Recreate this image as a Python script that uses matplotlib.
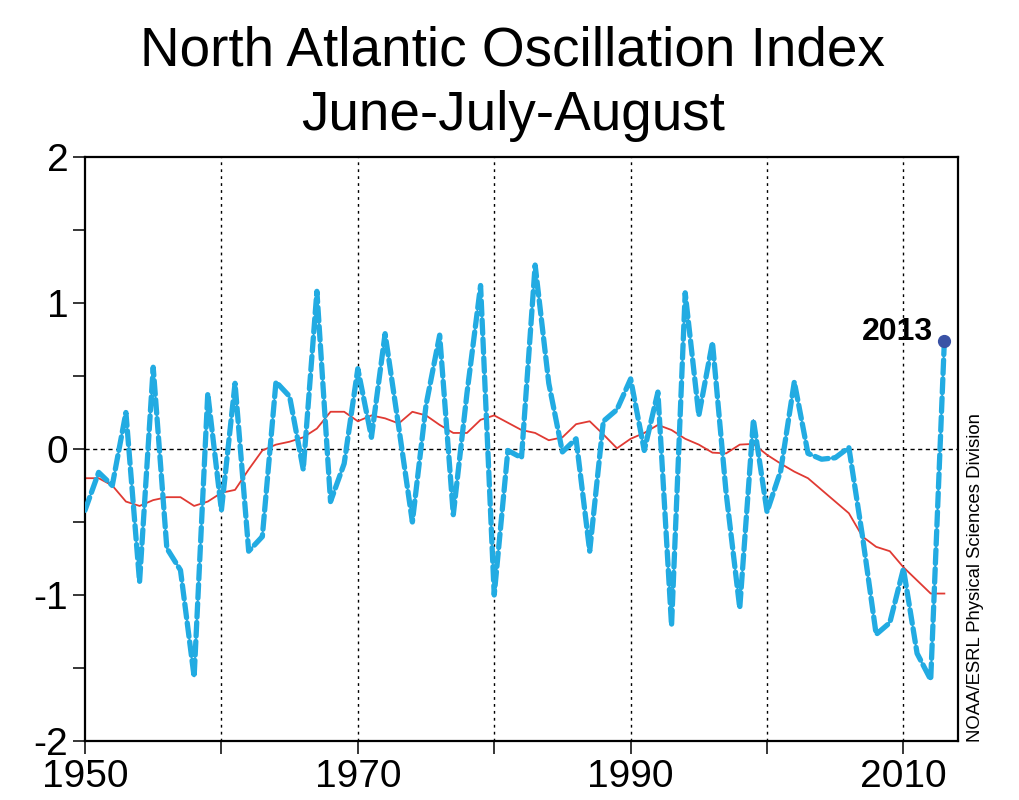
import numpy as np
import matplotlib
matplotlib.use("Agg")
import matplotlib.pyplot as plt
from matplotlib.ticker import MultipleLocator, FixedLocator

plt.rcParams['font.family'] = ['Liberation Sans', 'DejaVu Sans']

years = list(range(1950, 2014))
nao_jja = [-0.42, -0.16, -0.25, 0.25, -0.91, 0.56, -0.68, -0.83, -1.56, 0.38,
           -0.42, 0.45, -0.70, -0.60, 0.46, 0.36, -0.14, 1.08, -0.36, -0.10,
           0.55, 0.08, 0.79, 0.15, -0.50, 0.30, 0.78, -0.45, 0.38, 1.12,
           -1.00, -0.01, -0.06, 1.26, 0.45, -0.02, 0.07, -0.70, 0.19, 0.27,
           0.48, -0.01, 0.39, -1.21, 1.07, 0.23, 0.73, -0.30, -1.09, 0.20,
           -0.43, -0.15, 0.46, -0.03, -0.07, -0.06, 0.01, -0.60, -1.27, -1.19,
           -0.82, -1.40, -1.58, 0.74]
running_mean = [-0.20, -0.20, -0.25, -0.36, -0.39, -0.35, -0.33, -0.33, -0.39, -0.36,
                -0.30, -0.28, -0.14, -0.01, 0.03, 0.05, 0.08, 0.14, 0.255, 0.255,
                0.19, 0.23, 0.21, 0.175, 0.255, 0.23, 0.165, 0.11, 0.11, 0.20,
                0.23, 0.18, 0.13, 0.11, 0.06, 0.08, 0.17, 0.19, 0.10, 0.005,
                0.07, 0.11, 0.165, 0.13, 0.07, 0.03, -0.025, -0.03, 0.03, 0.035,
                -0.04, -0.10, -0.155, -0.20, -0.28, -0.36, -0.44, -0.60, -0.67, -0.70,
                -0.81, -0.90, -0.99, -0.99]
xtick_labels = [1950, 1970, 1990, 2010]
ytick_labels = [-2, -1, 0, 1, 2]
grid_years = [1960, 1970, 1980, 1990, 2000, 2010]
highlight_year = 2013

fig = plt.figure(figsize=(10.19, 8.0), dpi=100)
ax = fig.add_axes([85/1019, 59/800, 873/1019, 584/800])

ax.set_xlim(1950, 2014)
ax.set_ylim(-2, 2)

# grid / reference lines
for gy in grid_years:
    ax.axvline(gy, color='black', lw=1.0, linestyle=(0, (2, 3)), zorder=1)
ax.axhline(0, color='black', lw=1.0, linestyle=(0, (3, 2.5)), zorder=1)

# running mean
ax.plot(years, running_mean, color='#E03A33', lw=1.3, zorder=2)

# NAO index: thin dark line with thick dashed cyan on top
ax.plot(years, nao_jja, color='#1F3A8A', lw=0.8, zorder=3)
ax.plot(years, nao_jja, color='#22ABE2', lw=3.8, linestyle=(0, (2.6, 1.0)),
        dash_capstyle='round', zorder=4)

# highlight last year
hv = nao_jja[years.index(highlight_year)]
ax.plot([highlight_year], [hv], 'o', color='#3A52A5', ms=8.5, zorder=5)
ax.annotate(str(highlight_year), xy=(highlight_year, hv), xytext=(-8, 1),
            textcoords='offset points', ha='right', va='baseline',
            fontsize=23, fontweight='bold', zorder=6)

# ticks
ax.xaxis.set_major_locator(FixedLocator(xtick_labels))
ax.xaxis.set_minor_locator(FixedLocator(grid_years))
ax.set_xticklabels([str(v) for v in xtick_labels])
ax.yaxis.set_major_locator(FixedLocator(ytick_labels))
ax.yaxis.set_minor_locator(MultipleLocator(0.5))
ax.set_yticklabels([str(v) for v in ytick_labels])
ax.tick_params(axis='both', which='both', direction='out', length=9, width=1.1,
               top=False, right=False)
ax.tick_params(axis='x', which='major', labelsize=28, pad=4)
ax.tick_params(axis='y', which='major', labelsize=28, pad=3)
for s in ax.spines.values():
    s.set_linewidth(1.6)

# titles
fig.text(513/1019, 1 - 65/800, 'North Atlantic Oscillation Index',
         ha='center', va='baseline', fontsize=39.5)
fig.text(513/1019, 1 - 130/800, 'June-July-August',
         ha='center', va='baseline', fontsize=39.5)

# credit
fig.text(975/1019, 1 - 742/800, 'NOAA/ESRL Physical Sciences Division',
         rotation=90, ha='center', va='bottom', fontsize=13.3)

fig.savefig('out.png', dpi=100)
